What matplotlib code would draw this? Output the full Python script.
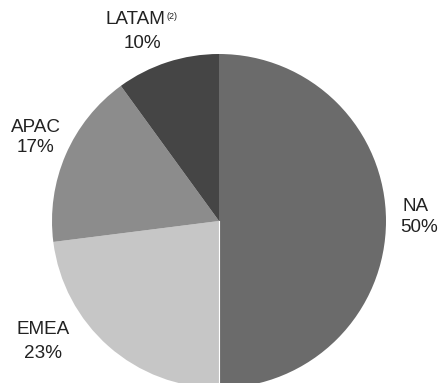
import matplotlib.pyplot as plt

plt.rcParams['font.family'] = ['Liberation Sans', 'DejaVu Sans']

# revenue split by region
regions = ['NA', 'EMEA', 'APAC', 'LATAM']
shares = [50, 23, 17, 10]
colors = ['#6b6b6b', '#c6c6c6', '#8c8c8c', '#454545']

W, H = 439, 383
fig = plt.figure(figsize=(W / 100, H / 100), dpi=100)
ax = fig.add_axes([0, 0, 1, 1])

ax.pie(shares, colors=colors, startangle=90, counterclock=False,
       center=(219, H - 221), radius=167,
       wedgeprops=dict(edgecolor='none', linewidth=0))
# thin white divider down the bottom half
ax.plot([219, 219], [H - 221, 0], color='white', lw=0.8)

# pie() resets the limits, so put them back in pixel units
ax.set_xlim(0, W)
ax.set_ylim(0, H)
ax.set_aspect('equal')
ax.axis('off')


def label(x, y, s, **kw):
    # y measured from the top
    opts = dict(fontsize=13.6, color='#222222', ha='center', va='center')
    opts.update(kw)
    ax.text(x, H - y, s, **opts)


label(416, 207, 'NA')
label(419, 228, '50%')
label(43, 330, 'EMEA')
label(43, 353, '23%')
label(36, 127, 'APAC')
label(36, 148, '17%')
label(135, 20, 'LATAM')
label(167, 16.5, '(2)', fontsize=6.5, ha='left')
label(142.5, 43, '10%')

fig.savefig('out.png', dpi=100)
